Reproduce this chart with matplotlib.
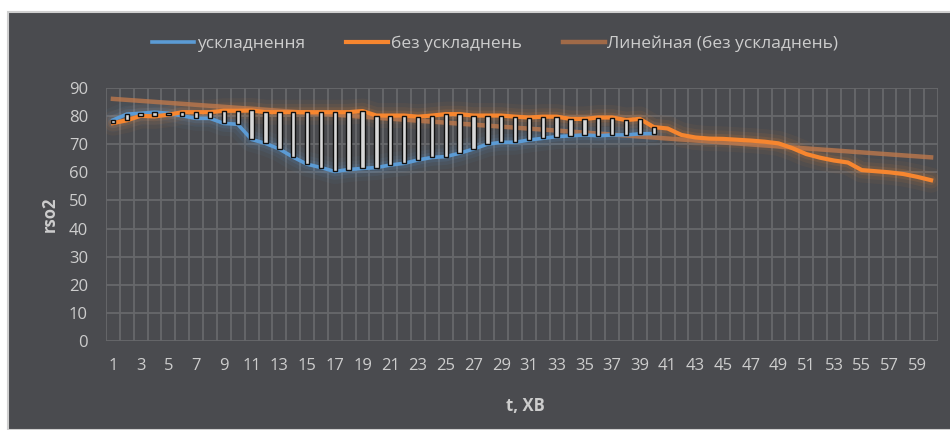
import matplotlib
matplotlib.use('Agg')
import matplotlib.pyplot as plt
import numpy as np
from matplotlib.patches import Rectangle

# minutes 1..60
t = np.arange(1, 61)

# ускладнення (only first 40 minutes)
uskl = [78.6, 80.7, 81.0, 81.4, 81.0, 80.1, 79.2, 79.2, 77.4, 77.1,
        71.7, 70.3, 68.3, 65.4, 62.9, 61.7, 60.3, 61.0, 61.4, 61.7,
        62.6, 63.2, 64.4, 65.3, 65.6, 66.8, 68.3, 70.0, 70.7, 70.7,
        71.5, 72.1, 72.7, 73.0, 73.3, 73.0, 73.3, 73.3, 73.7, 73.8]

# без ускладнень
bez = [77.5, 78.5, 80.1, 79.9, 80.5, 81.4, 81.4, 81.4, 81.9, 81.9,
       82.0, 81.4, 81.4, 81.4, 81.4, 81.4, 81.4, 81.4, 81.8, 80.2,
       80.2, 80.2, 79.8, 80.2, 80.7, 80.7, 80.2, 80.2, 80.2, 79.8,
       79.5, 79.8, 79.8, 79.0, 79.0, 79.5, 79.5, 78.6, 79.0, 76.1,
       75.6, 73.3, 72.4, 72.0, 71.9, 71.6, 71.3, 70.9, 70.3, 68.6,
       66.5, 65.2, 64.2, 63.5, 60.8, 60.4, 60.0, 59.4, 58.4, 57.2]

yticks = [0, 10, 20, 30, 40, 50, 60, 70, 80, 90]

bg = '#4a4b4f'
grid = '#67686b'
txt = '#cdcdcd'
blue = '#5b9bd5'
orange = '#f7862f'
trend_c = '#bd784c'

plt.rcParams['font.family'] = ['Open Sans', 'DejaVu Sans']

fig = plt.figure(figsize=(9.5, 4.3), dpi=100, facecolor='white')
# dark chart frame with white margin top/left
frame = Rectangle((8 / 950, 0), 1, 1 - 12 / 430, transform=fig.transFigure,
                  facecolor=bg, edgecolor='#cfcfcf', linewidth=1.5, zorder=-10)
fig.add_artist(frame)

ax = fig.add_axes([106 / 950, 1 - 341 / 430, 832 / 950, 253 / 430])
ax.set_facecolor('none')
ax.set_zorder(1)

t1 = t[:len(uskl)]
bez_a = np.array(bez)
uskl_a = np.array(uskl)

# glow
for lw, a in [(18, 0.05), (12, 0.08), (7, 0.12)]:
    ax.plot(t1, uskl, color=blue, lw=lw, alpha=a, solid_capstyle='round', zorder=2)
    ax.plot(t, bez, color=orange, lw=lw, alpha=a, solid_capstyle='round', zorder=2)

ax.plot(t1, uskl, color=blue, lw=2.6, zorder=3, label='ускладнення')
ax.plot(t, bez, color=orange, lw=3.0, zorder=3, label='без ускладнень')

# linear trendline of без ускладнень
k, b = np.polyfit(t, bez_a, 1)
ax.plot(t, k * t + b, color=trend_c, lw=3.2, alpha=0.8, zorder=2.5)
ax.plot([], [], color='#a06a48', lw=3.2, label='Линейная (без ускладнень)')

# up-down bars
lo = np.minimum(uskl_a, bez_a[:len(uskl)])
hi = np.maximum(uskl_a, bez_a[:len(uskl)])
ax.bar(t1, hi - lo, bottom=lo, width=0.32, color='#d8d8d8', edgecolor='#111111',
       linewidth=1.0, zorder=4)

ax.set_xlim(0.5, 60.5)
ax.set_ylim(0, 90)
ax.set_yticks(yticks)
ax.set_xticks(t[::2])
ax.grid(False)
for y in yticks:
    ax.axhline(y, color=grid, lw=1.3, zorder=1)
for x in np.arange(0.5, 61, 1):
    ax.axvline(x, color=grid, lw=1.3, zorder=1)
for s in ax.spines.values():
    s.set_visible(False)
ax.tick_params(which='both', length=0, colors=txt, labelsize=12)
ax.tick_params(axis='x', pad=12)
ax.tick_params(axis='y', pad=13)

ax.set_ylabel('rso2', color=txt, fontsize=12, fontweight='bold')
ax.yaxis.set_label_coords(-0.057, 0.5)
ax.set_xlabel('t, ХВ', color=txt, fontsize=12, fontweight='bold')
ax.xaxis.set_label_coords(0.504, -0.221)

leg = ax.legend(loc='center', bbox_to_anchor=(0.468, 1.174), ncol=3, frameon=False,
                fontsize=12.5, labelcolor=txt, handlelength=2.4, handletextpad=0.15,
                columnspacing=2.4)

fig.savefig('out.png', dpi=100, facecolor='white')
